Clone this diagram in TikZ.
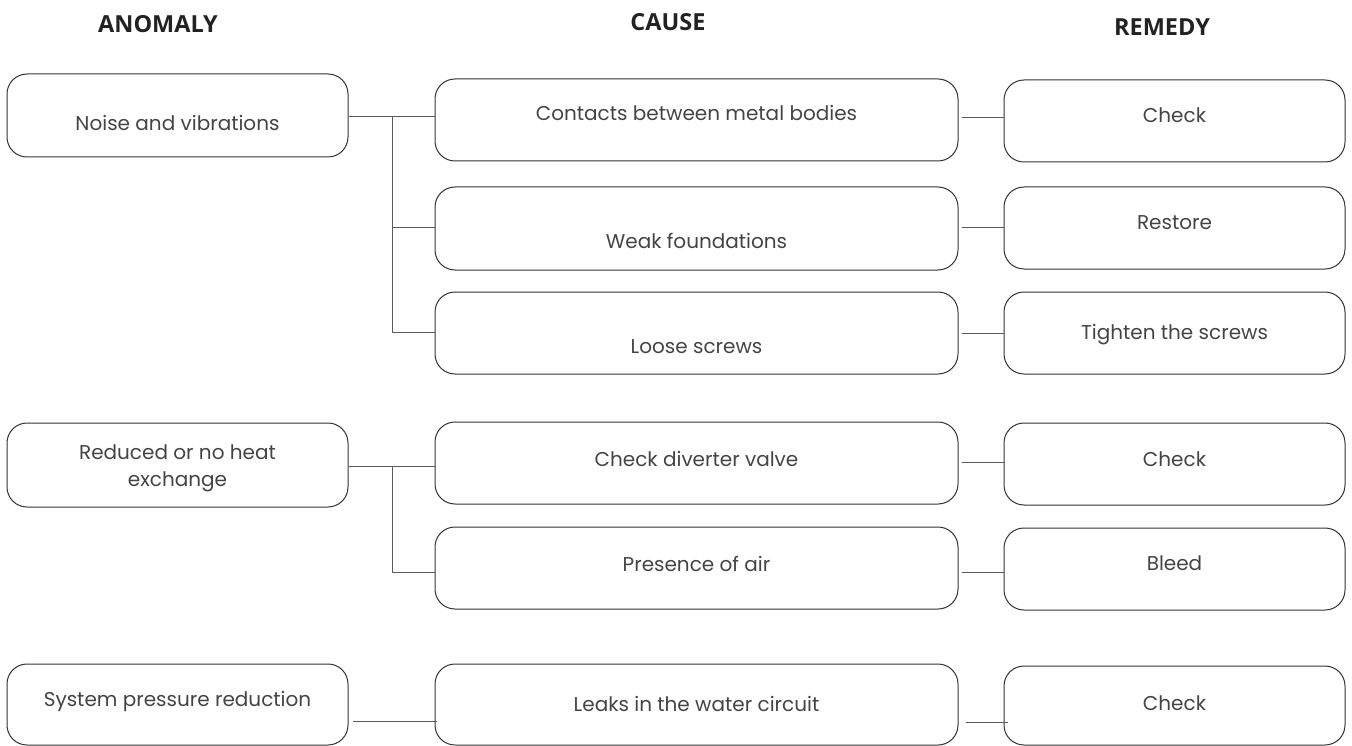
\documentclass[tikz,border=0pt]{standalone}
\usepackage{fontspec}
\setmainfont{Poppins}
\newfontfamily\headfont{Open Sans}
\usetikzlibrary{calc}
\definecolor{boxline}{HTML}{333333}
\definecolor{conn}{HTML}{5A5A5A}
\definecolor{txtc}{HTML}{444444}
\definecolor{headc}{HTML}{222222}
\tikzset{
  box/.style={draw=boxline, line width=1pt, rounded corners=20pt, inner sep=0pt},
  box1/.style={box, minimum width=341pt},
  box2/.style={box, minimum width=523pt},
  txt/.style={text=txtc, font=\fontsize{20}{27}\selectfont, align=center, inner sep=0pt},
  head/.style={text=headc, font=\headfont\bfseries\fontsize{23.5}{28}\selectfont, inner sep=0pt},
  conn/.style={draw=conn, line width=1pt}
}
\begin{document}
\begin{tikzpicture}[x=1pt,y=-1pt]
\useasboundingbox (0,0) rectangle (1352,746);
% headers
\node[head] (h1) at (158,24) {ANOMALY};
\node[head] (h2) at (668,22) {CAUSE};
\node[head] (h3) at (1162,27) {REMEDY};
% anomaly boxes
\node[box1, minimum height=83pt] (a1) at (177.5,115.5) {};
\node[box1, minimum height=84pt] (a2) at (177.5,465) {};
\node[box1, minimum height=81pt] (a3) at (177.5,704.5) {};
% cause boxes
\node[box2, minimum height=82pt] (c1) at (696.5,120) {};
\node[box2, minimum height=83pt] (c2) at (696.5,228.5) {};
\node[box2, minimum height=82pt] (c3) at (696.5,333) {};
\node[box2, minimum height=82pt] (c4) at (696.5,463) {};
\node[box2, minimum height=82pt] (c5) at (696.5,568) {};
\node[box2, minimum height=81pt] (c6) at (696.5,704.5) {};
% remedy boxes
\node[box1, minimum height=82pt] (r1) at (1174.5,121) {};
\node[box1, minimum height=82pt] (r2) at (1174.5,228) {};
\node[box1, minimum height=82pt] (r3) at (1174.5,333) {};
\node[box1, minimum height=82pt] (r4) at (1174.5,464) {};
\node[box1, minimum height=82pt] (r5) at (1174.5,569) {};
\node[box1, minimum height=79pt] (r6) at (1174.5,705.5) {};
% texts
\node[txt] (ta1) at (177.5,123) {Noise and vibrations};
\node[txt] (ta2) at (177.5,468) {Reduced or no heat\\exchange};
\node[txt] (ta3) at (177.5,701) {System pressure reduction};
\node[txt] (tc1) at (696.5,113) {Contacts between metal bodies};
\node[txt] (tc2) at (696.5,241) {Weak foundations};
\node[txt] (tc3) at (696.5,347) {Loose screws};
\node[txt] (tc4) at (696.5,459) {Check diverter valve};
\node[txt] (tc5) at (696.5,564) {Presence of air};
\node[txt] (tc6) at (696.5,704) {Leaks in the water circuit};
\node[txt] (tr1) at (1174.5,115) {Check};
\node[txt] (tr2) at (1174.5,223) {Restore};
\node[txt] (tr3) at (1174.5,335) {Tighten the screws};
\node[txt] (tr4) at (1174.5,459) {Check};
\node[txt] (tr5) at (1174.5,563) {Bleed};
\node[txt] (tr6) at (1174.5,703) {Check};
% anomaly -> cause connectors
\coordinate (j1) at (392,117);
\draw[conn] (a1.east |- j1) -- (c1.west |- j1);
\draw[conn] (j1) |- (c2.west |- 0,228);
\draw[conn] (j1) |- (c3.west |- 0,332);
\coordinate (j2) at (392,466);
\draw[conn] (a2.east |- j2) -- (c4.west |- j2);
\draw[conn] (j2) |- (c5.west |- 0,572);
\draw[conn] ($(a3.east |- 0,721)+(4,0)$) -- ($(c6.west |- 0,721)+(2,0)$);
% cause -> remedy connectors
\draw[conn] ($(c1.east |- 0,118)+(3,0)$) -- (r1.west |- 0,118);
\draw[conn] ($(c2.east |- 0,228)+(3,0)$) -- (r2.west |- 0,228);
\draw[conn] ($(c3.east |- 0,333)+(3,0)$) -- (r3.west |- 0,333);
\draw[conn] ($(c4.east |- 0,462)+(3,0)$) -- (r4.west |- 0,462);
\draw[conn] ($(c5.east |- 0,572)+(3,0)$) -- (r5.west |- 0,572);
\draw[conn] ($(c6.east |- 0,722)+(7,0)$) -- ($(r6.west |- 0,722)+(4,0)$);
\end{tikzpicture}
\end{document}
